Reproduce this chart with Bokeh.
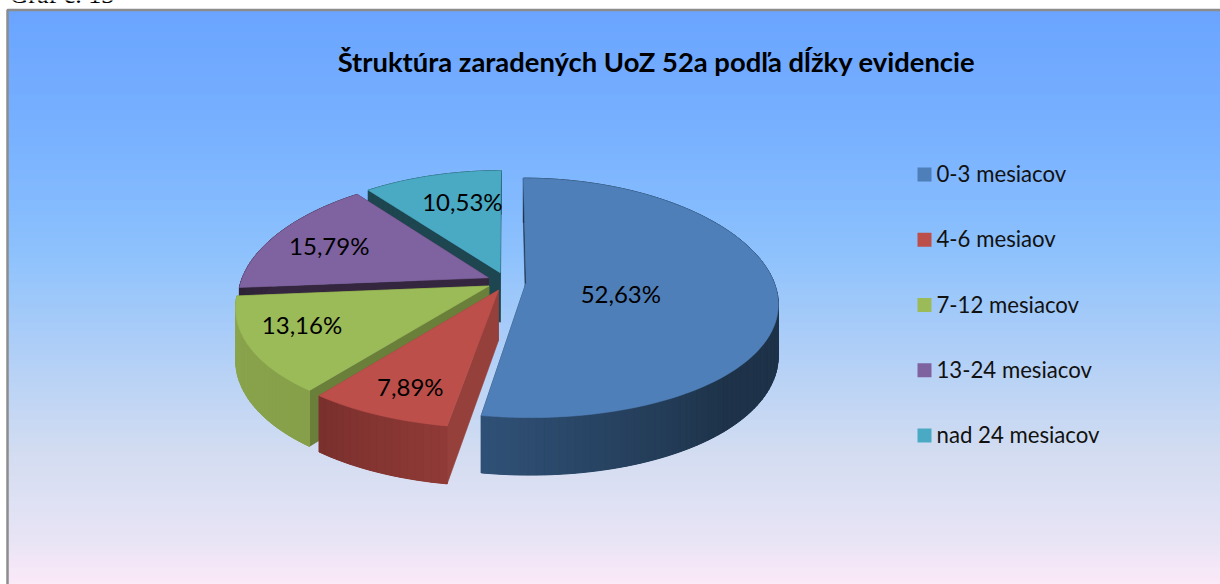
import numpy as np
from bokeh.plotting import figure
from bokeh.models import ColumnDataSource
from bokeh.core.properties import value
from bokeh.embed import file_html
from bokeh.resources import INLINE

# ---- data
categories = ["0-3 mesiacov", "4-6 mesiaov", "7-12 mesiacov", "13-24 mesiacov", "nad 24 mesiacov"]
shares = [52.63, 7.89, 13.16, 15.79, 10.53]
labels = ["52,63%", "7,89%", "13,16%", "15,79%", "10,53%"]
title = "Štruktúra zaradených UoZ 52a podľa dĺžky evidencie"
caption = "Graf č. 13"

# ---- styles
top_colors = ["#4f7fb9", "#bd4f4b", "#9bba58", "#7f63a0", "#4aaac4"]
side_start = ["#1e3349", "#8f3a36", "#86a04a", "#2f2338", "#1d4650"]
side_end = ["#2f5076", "#7a302d", "#8ba54d", "#35263f", "#1d4650"]
cut_a = ["#233a55", "#95403b", "#6a7f39", "#35263f", "#1d4650"]
cut_b = ["#233a55", "#95403b", "#6a7f39", "#35263f", "#1d4650"]
label_frac = [0.389, 0.796, 0.775, 0.735, 0.676]
label_turn = [11.7, -1.3, 4.0, -1.5, 4.0]
FONT = "Lato"

# ---- projection of the tilted pie
W, H = 1220, 584
CX, CY = 506, 281
RX, RY = 247.5, 117.5
KX, KY = 0.17, 0.13
DEPTH = 50
EXPLODE = 0.08


def project(u, v, down=0.0):
    u, v = np.asarray(u, float), np.asarray(v, float)
    x = CX + RX * u / (1 - KX * v)
    y = CY + RY * v / (1 - KY * v) + down * DEPTH / (1 - KY * v)
    return x, y


def hex2rgb(c):
    return np.array([int(c[i:i + 2], 16) for i in (1, 3, 5)], float)


def lerp_hex(a, b, t):
    c = hex2rgb(a) * (1 - t) + hex2rgb(b) * t
    return "#%02x%02x%02x" % tuple(int(round(i)) for i in c)


p = figure(width=W, height=H, x_range=(0, W), y_range=(H, 0), toolbar_location=None,
           output_backend="svg", min_border=0, outline_line_color=None)
p.axis.visible = False
p.grid.visible = False
p.background_fill_color = None
p.border_fill_color = "white"

# ---- background gradient
stops_y = [0, 10, 150, 250, 450, 540, 584]
stops_c = ["#5f9dff", "#619eff", "#72aeff", "#85bdfd", "#cfdaf0", "#e7e2f5", "#fbe8f7"]
tops = np.arange(9, H, 1)
rgb = np.array([np.interp(tops, stops_y, [hex2rgb(c)[k] for c in stops_c]) for k in range(3)]).T
row_colors = ["#%02x%02x%02x" % tuple(int(round(c)) for c in r) for r in rgb]
p.quad(left=7, right=W, top=tops, bottom=tops + 1, fill_color=row_colors, line_color=row_colors, line_width=0.5)
p.line(x=[7, 7, W], y=[H, 9.5, 9.5], line_color="#8c8c8c", line_width=2.5)

# ---- pie
bounds = np.concatenate([[0], np.cumsum(shares)]) / sum(shares) * 360
mids = (bounds[:-1] + bounds[1:]) / 2
order = [4, 3, 2, 1, 0]
for i in order:
    a0, a1 = bounds[i], bounds[i + 1]
    m = np.radians(mids[i])
    ou, ov = EXPLODE * np.sin(m), -EXPLODE * np.cos(m)
    th = np.radians(np.linspace(a0, a1, max(4, int((a1 - a0) / 1.5) + 1)))
    us, vs = ou + np.sin(th), ov - np.cos(th)
    xt, yt = project(us, vs)
    xb, yb = project(us, vs, 1.0)

    # the two cut faces
    ax, ay = project(ou, ov)
    bx, by = project(ou, ov, 1.0)
    p.patch([float(ax), xt[0], xb[0], float(bx)], [float(ay), yt[0], yb[0], float(by)],
            fill_color=cut_a[i], line_color=cut_a[i], line_width=0.6)
    p.patch([float(ax), xt[-1], xb[-1], float(bx)], [float(ay), yt[-1], yb[-1], float(by)],
            fill_color=cut_b[i], line_color=cut_b[i], line_width=0.6)

    # arc side, in strips over a solid base
    p.patch(np.r_[xt, xb[::-1]], np.r_[yt, yb[::-1]], fill_color=lerp_hex(side_start[i], side_end[i], 0.5),
            line_color=None)
    xs, ys, cs = [], [], []
    for k in range(len(th) - 1):
        t = k / (len(th) - 2)
        t = max(0.0, (t - 0.72) / 0.28) if i == 0 else t
        xs.append([xt[k], xt[k + 1], xb[k + 1], xb[k]])
        ys.append([yt[k], yt[k + 1], yb[k + 1], yb[k]])
        cs.append(lerp_hex(side_start[i], side_end[i], t))
    p.patches(xs, ys, fill_color=cs, line_color=cs, line_width=1)

    # top face
    p.patch(np.r_[float(ax), xt], np.r_[float(ay), yt], fill_color=top_colors[i],
            line_color=top_colors[i], line_width=0.6)

# ---- data labels
lu, lv = [], []
for i in range(5):
    m = np.radians(mids[i])
    a = np.radians(mids[i] + label_turn[i])
    lu.append(EXPLODE * np.sin(m) + label_frac[i] * np.sin(a))
    lv.append(-EXPLODE * np.cos(m) - label_frac[i] * np.cos(a))
lx, ly = project(lu, lv)
p.text(x=lx, y=ly - 1.5, text=labels, text_font=value(FONT), text_font_size="24px",
       text_align="center", text_baseline="middle", text_color="#000000")

# ---- legend
row_y = 174 + 65.25 * np.arange(5)
src = ColumnDataSource(dict(y=row_y, ty=row_y - 1, color=top_colors, name=categories, x0=[924] * 5, x1=[936] * 5))
p.scatter(x="x0", y="y", size=14, marker="square", fill_color="color", line_color=None, source=src)
p.text(x="x1", y="ty", text="name", text_font=value(FONT), text_font_size="22.2px",
       text_align="left", text_baseline="middle", text_color="#111111", source=src)

# ---- title and caption
p.text(x=[656], y=[61], text=[title], text_font=value(FONT), text_font_style="bold",
       text_font_size="27.4px", text_align="center", text_baseline="middle", text_color="#000000")
p.text(x=[9], y=[-6], text=[caption], text_font=value("Liberation Serif"), text_font_size="26px",
       text_align="left", text_baseline="alphabetic", text_color="#000000")

open("out.html", "w").write(file_html(p, INLINE))
